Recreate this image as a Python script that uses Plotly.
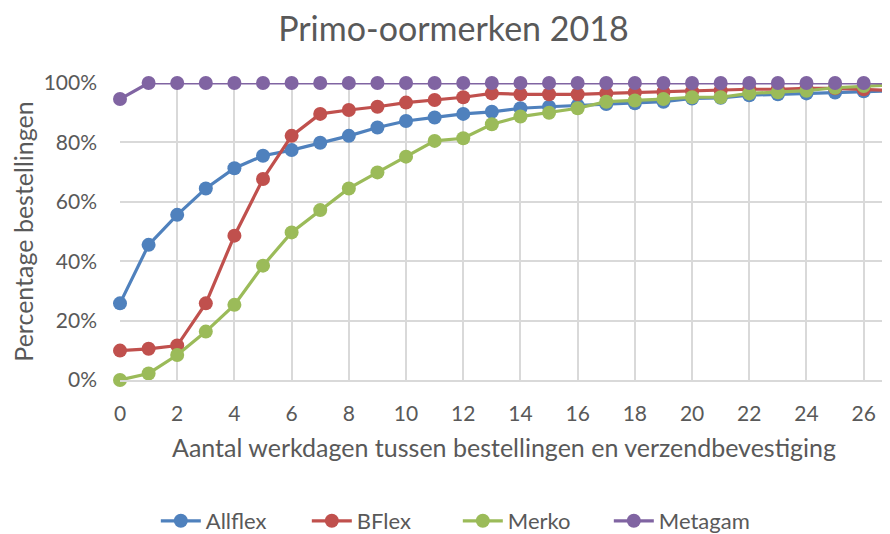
import plotly.graph_objects as go

days = list(range(0, 28))
allflex = [25.8, 45.5, 55.6, 64.5, 71.3, 75.5, 77.4, 79.9, 82.2, 85.0, 87.2, 88.4, 89.6, 90.3,
           91.5, 92.0, 92.4, 92.9, 93.2, 93.7, 94.8, 95.0, 95.9, 96.2, 96.5, 96.8, 97.2, 97.4]
bflex = [9.9, 10.5, 11.6, 25.8, 48.6, 67.7, 82.2, 89.6, 90.9, 92.0, 93.4, 94.3, 95.2, 96.5,
         96.2, 96.2, 96.2, 96.5, 96.8, 97.0, 97.2, 97.5, 97.9, 97.9, 98.2, 98.2, 97.9, 97.5]
merko = [0.0, 2.2, 8.4, 16.3, 25.3, 38.5, 49.7, 57.2, 64.5, 69.9, 75.2, 80.5, 81.4, 86.1,
         88.7, 90.0, 91.5, 93.7, 94.1, 94.6, 95.2, 95.2, 96.5, 96.9, 97.4, 98.4, 99.0, 99.4]
metagam = [94.6] + [100.0] * 27

series = [
    ("Allflex", allflex, "#4F81BD"),
    ("BFlex", bflex, "#C0504D"),
    ("Merko", merko, "#9BBB59"),
    ("Metagam", metagam, "#8064A2"),
]

x_ticks = list(range(0, 27, 2))
y_ticks = [0, 0.2, 0.4, 0.6, 0.8, 1.0]
y_labels = ["0%", "20%", "40%", "60%", "80%", "100%"]

W, H = 882, 526  # page body has an 8px margin inside the 890x534 window

fig = go.Figure()
for name, vals, color in series:
    fig.add_trace(go.Scatter(
        x=days, y=[v / 100 for v in vals], name=name, mode="lines+markers",
        line=dict(color=color, width=3.2),
        marker=dict(color=color, size=14),
        cliponaxis=False,
    ))

font_family = "Lato, 'Open Sans', sans-serif"
grey = "#595959"

fig.update_layout(
    width=W, height=H,
    margin=dict(l=112, r=2, t=75, b=154),
    paper_bgcolor="white", plot_bgcolor="white",
    font=dict(family=font_family, color=grey, size=21),
    title=dict(text="Primo-oormerken 2018", x=0.505, xanchor="center",
               xref="container", yref="container",
               y=1 - 21 / H, yanchor="middle", font=dict(size=34, color=grey)),
    legend=dict(orientation="h", x=0.51, xanchor="center", xref="container",
                yref="container", y=1 - 513 / H, yanchor="middle",
                font=dict(size=22, color=grey), itemwidth=40,
                entrywidth=96, entrywidthmode="pixels"),
    showlegend=True,
)
fig.update_xaxes(
    range=[0, 26.85], tickvals=x_ticks, showgrid=True, gridcolor="#D9D9D9", gridwidth=1.5,
    showline=True, linecolor="#D9D9D9", linewidth=1.5, zeroline=False, automargin=False,
    ticks="", ticklabelstandoff=14, tickfont=dict(size=21, color=grey),
    title=dict(text="Aantal werkdagen tussen bestellingen en verzendbevestiging",
               font=dict(size=25, color=grey), standoff=16),
)
fig.update_yaxes(
    range=[0, 1], tickvals=y_ticks, ticktext=y_labels, showgrid=True,
    gridcolor="#D9D9D9", gridwidth=1.5, zeroline=False, showline=False, automargin=False,
    ticks="", ticklabelstandoff=22, tickfont=dict(size=21, color=grey),
    title=dict(text="Percentage bestellingen", font=dict(size=25, color=grey), standoff=10),
)

fig.write_html("out.html")
